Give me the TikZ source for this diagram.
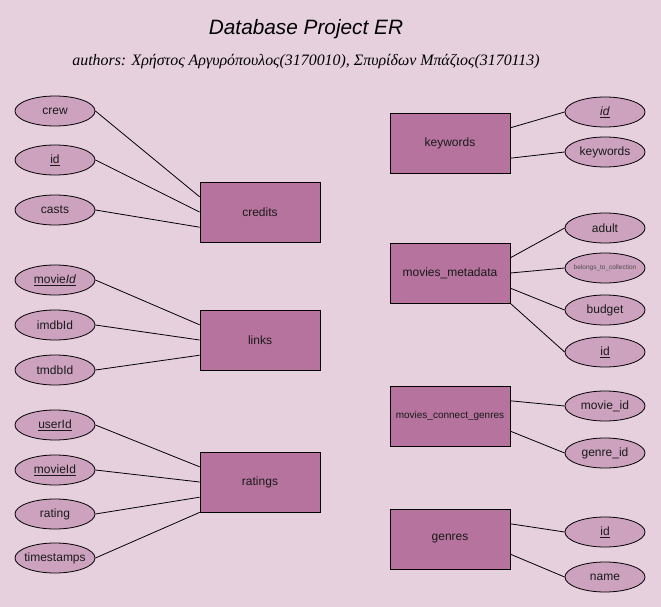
\documentclass[tikz,border=0pt]{standalone}
\usepackage{fontspec}
\setmainfont{Liberation Sans}
\newfontfamily\authorfont{Liberation Serif}
\usetikzlibrary{shapes.geometric,calc}
\definecolor{bg}{HTML}{E6D0DE}
\definecolor{ent}{HTML}{B5739D}
\definecolor{att}{HTML}{CDA2BE}
\definecolor{txt}{HTML}{1A1A1A}
\begin{document}
\begin{tikzpicture}[x=1pt,y=-1pt,
  entity/.style={draw=black, line width=0.8pt, fill=ent, minimum width=120pt, minimum height=60pt, inner sep=0pt, text=txt, font=\fontsize{12}{14}\selectfont},
  attr/.style={ellipse, draw=black, line width=0.8pt, fill=att, minimum width=80pt, minimum height=30pt, inner sep=0pt, text=txt, font=\fontsize{12}{14}\selectfont},
  link/.style={draw=black, line width=0.8pt}]
\fill[bg] (0,0) rectangle (661,607);
\useasboundingbox (0,0) rectangle (661,607);

\node (title) at (306,29) {\fontsize{20.8}{24}\selectfont\itshape Database Project ER};
\node (authors) at (306,62) {\authorfont\fontsize{15.9}{18}\selectfont\itshape authors: Χρήστος Αργυρόπουλος(3170010), Σπυρίδων Μπάζιος(3170113)};

% entities
\node[entity] (credits) at (260,212) {credits};
\node[entity] (links) at (260,340) {links};
\node[entity] (ratings) at (260,482) {ratings};
\node[entity] (keywords) at (450,143) {keywords};
\node[entity] (meta) at (450,273) {movies\_metadata};
\node[entity, font=\fontsize{10}{12}\selectfont] (mcg) at (450,416) {movies\_connect\_genres};
\node[entity] (genres) at (450,539) {genres};

% left attributes
\node[attr] (crew) at (55,111) {crew};
\node[attr] (cid) at (55,160) {\underline{id}};
\node[attr] (casts) at (55,210) {casts};
\node[attr] (lmid) at (55,280) {\underline{movie\textit{Id}}};
\node[attr] (imdb) at (55,325) {imdbId};
\node[attr] (tmdb) at (55,370) {tmdbId};
\node[attr] (uid) at (55,425) {\underline{userId}};
\node[attr] (rmid) at (55,470) {\underline{movieId}};
\node[attr] (rating) at (55,514) {rating};
\node[attr] (ts) at (55,558) {\makebox[0pt]{timestamps}};

% right attributes
\node[attr] (kid) at (605,112) {\underline{\textit{id}}};
\node[attr] (kw) at (605,152) {keywords};
\node[attr] (adult) at (605,228) {adult};
\node[attr, font=\fontsize{6.5}{8}\selectfont, text=black!70] (btc) at (605,268) {\makebox[0pt]{belongs\_to\_collection}};
\node[attr] (budget) at (605,310) {budget};
\node[attr] (mid) at (605,352) {\underline{id}};
\node[attr] (movid) at (605,406) {movie\_id};
\node[attr] (genid) at (605,453) {genre\_id};
\node[attr] (gid) at (605,532) {\underline{id}};
\node[attr] (gname) at (605,577) {name};

% connectors left
\draw[link] (crew.east) -- ($(credits.north west)!.25!(credits.south west)$);
\draw[link] (cid.east) -- (credits.west);
\draw[link] (casts.east) -- ($(credits.north west)!.75!(credits.south west)$);
\draw[link] (lmid.east) -- ($(links.north west)!.25!(links.south west)$);
\draw[link] (imdb.east) -- (links.west);
\draw[link] (tmdb.east) -- ($(links.north west)!.75!(links.south west)$);
\draw[link] (uid.east) -- ($(ratings.north west)!.25!(ratings.south west)$);
\draw[link] (rmid.east) -- ($(ratings.north west)!.5!(ratings.south west)$);
\draw[link] (rating.east) -- ($(ratings.north west)!.75!(ratings.south west)$);
\draw[link] (ts.east) -- (ratings.south west);

% connectors right
\draw[link] ($(keywords.north east)!.25!(keywords.south east)$) -- (kid.west);
\draw[link] ($(keywords.north east)!.75!(keywords.south east)$) -- (kw.west);
\draw[link] ($(meta.north east)!.25!(meta.south east)$) -- (adult.west);
\draw[link] (meta.east) -- (btc.west);
\draw[link] ($(meta.north east)!.75!(meta.south east)$) -- (budget.west);
\draw[link] (meta.south east) -- (mid.west);
\draw[link] ($(mcg.north east)!.25!(mcg.south east)$) -- (movid.west);
\draw[link] ($(mcg.north east)!.75!(mcg.south east)$) -- (genid.west);
\draw[link] ($(genres.north east)!.25!(genres.south east)$) -- (gid.west);
\draw[link] ($(genres.north east)!.75!(genres.south east)$) -- (gname.west);
\end{tikzpicture}
\end{document}
